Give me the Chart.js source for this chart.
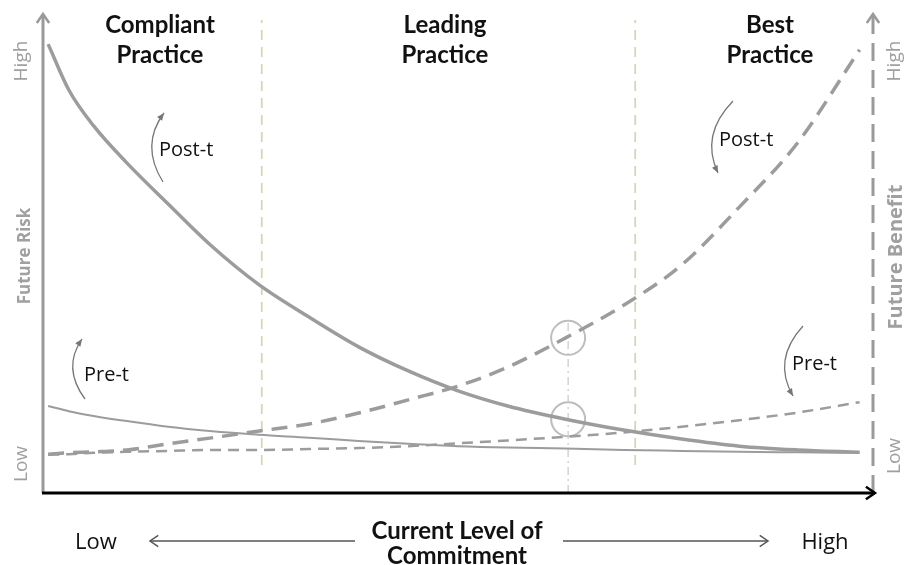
<!DOCTYPE html>
<html>
<head>
<meta charset="utf-8">
<script src="https://cdn.jsdelivr.net/npm/chart.js@4.4.1/dist/chart.umd.min.js"></script>
<style>
  html, body { margin: 0; padding: 0; background: #fff; }
  #wrap { width: 910px; height: 565px; }
</style>
</head>
<body>
<div id="wrap"><canvas id="riskChart" width="910" height="565"></canvas></div>
<script>
// Commitment level (x, 0-100) shared by all curves
const commitment = [0.5, 3, 6, 10, 15, 20, 26, 32, 38, 44, 50, 56, 63, 70, 77, 84, 91, 98.5];

// Future risk (left axis, 0-100)
const riskPostT = [94.9, 85.2, 77.6, 69.8, 61.1, 52.6, 44.0, 37.2, 30.9, 25.8, 21.6, 18.4, 15.6, 13.3, 11.4, 9.9, 9.1, 8.6];
const riskPreT  = [18.4, 17.3, 16.3, 15.2, 14.0, 13.1, 12.3, 11.7, 11.0, 10.4, 9.9, 9.6, 9.4, 9.1, 8.9, 8.7, 8.6, 8.5];

// Future benefit (right axis, 0-100)
const benefitPostT = [8.2, 8.5, 8.7, 9.1, 10.4, 11.6, 13.1, 14.6, 16.9, 19.7, 22.6, 26.6, 32.8, 39.7, 48.2, 60.5, 74.0, 93.7];
const benefitPreT  = [8.1, 8.2, 8.5, 8.7, 8.9, 9.1, 9.1, 9.3, 9.5, 9.9, 10.5, 11.1, 11.9, 12.8, 14.0, 15.4, 17.0, 19.2];

// Practice zone boundaries and the highlighted commitment level
const zoneBounds = [26.3, 71.4];
const zoneNames = [['Compliant', 'Practice'], ['Leading', 'Practice'], ['Best', 'Practice']];
const markerX = 63.3;
const markerY = [32.8, 15.6];

function pts(ys) {
    return commitment.map((x, i) => ({ x: x, y: ys[i] }));
}

const grey = '#9c9c9c';

const datasets = [
    { data: pts(riskPostT), borderColor: grey, borderWidth: 3.5, cubicInterpolationMode: 'monotone', pointRadius: 0 },
    { data: pts(riskPreT), borderColor: grey, borderWidth: 2, cubicInterpolationMode: 'monotone', pointRadius: 0 },
    { data: pts(benefitPostT), borderColor: grey, borderWidth: 3.5, borderDash: [16, 9], cubicInterpolationMode: 'monotone', pointRadius: 0 },
    { data: pts(benefitPreT), borderColor: grey, borderWidth: 2.5, borderDash: [11, 7], cubicInterpolationMode: 'monotone', pointRadius: 0 }
];

// zone dividers
zoneBounds.forEach(b => {
    datasets.push({
        data: [{ x: b, y: 5.9 }, { x: b, y: 100.5 }],
        borderColor: '#d9d4b6', borderWidth: 1.8, borderDash: [10, 7], pointRadius: 0
    });
});

// dash-dot marker line
datasets.push({
    data: [{ x: markerX, y: 0 }, { x: markerX, y: 36 }],
    borderColor: '#c8c8c8', borderWidth: 1.2, borderDash: [8, 4, 2, 4], pointRadius: 0
});

// circles
datasets.push({
    type: 'scatter',
    data: markerY.map(y => ({ x: markerX, y: y })),
    pointRadius: 17, pointHoverRadius: 17,
    pointBackgroundColor: 'rgba(0,0,0,0)', pointBorderColor: '#bdbdbd', pointBorderWidth: 2
});

function arrowHead(ctx, x, y, ang, len, spread) {
    ctx.beginPath();
    ctx.moveTo(x - len * Math.cos(ang - spread), y - len * Math.sin(ang - spread));
    ctx.lineTo(x, y);
    ctx.lineTo(x - len * Math.cos(ang + spread), y - len * Math.sin(ang + spread));
    ctx.stroke();
}

function curvedArrow(ctx, x1, y1, cx, cy, x2, y2) {
    ctx.save();
    ctx.strokeStyle = '#777';
    ctx.lineWidth = 1.3;
    ctx.beginPath();
    ctx.moveTo(x1, y1);
    ctx.quadraticCurveTo(cx, cy, x2, y2);
    ctx.stroke();
    const ang = Math.atan2(y2 - cy, x2 - cx);
    ctx.fillStyle = '#777';
    ctx.beginPath();
    ctx.moveTo(x2, y2);
    ctx.lineTo(x2 - 8 * Math.cos(ang - 0.4), y2 - 8 * Math.sin(ang - 0.4));
    ctx.lineTo(x2 - 8 * Math.cos(ang + 0.4), y2 - 8 * Math.sin(ang + 0.4));
    ctx.closePath();
    ctx.fill();
    ctx.restore();
}

function vText(ctx, text, x, y, font, color) {
    ctx.save();
    ctx.translate(x, y);
    ctx.rotate(-Math.PI / 2);
    ctx.font = font;
    ctx.fillStyle = color;
    ctx.textAlign = 'center';
    ctx.textBaseline = 'middle';
    ctx.fillText(text, 0, 0);
    ctx.restore();
}

const decorations = {
    id: 'decorations',
    afterDatasetsDraw(chart) {
        const { ctx, scales } = chart;
        const xs = scales.x, ys = scales.y;
        const left = xs.getPixelForValue(0);
        const right = xs.getPixelForValue(100);
        const bottom = ys.getPixelForValue(0);
        const top = ys.getPixelForValue(100) - 6;

        ctx.save();
        // left axis
        ctx.strokeStyle = '#9a9a9a';
        ctx.lineWidth = 3;
        ctx.beginPath();
        ctx.moveTo(left - 1, bottom);
        ctx.lineTo(left - 1, top + 1);
        ctx.stroke();
        ctx.lineWidth = 2.5;
        arrowHead(ctx, left - 1, top, -Math.PI / 2, 11, 0.6);

        // right axis (dashed)
        ctx.lineWidth = 3;
        ctx.setLineDash([18, 9]);
        ctx.beginPath();
        ctx.moveTo(right + 1, bottom);
        ctx.lineTo(right + 1, top + 2);
        ctx.stroke();
        ctx.setLineDash([]);
        ctx.lineWidth = 2.5;
        arrowHead(ctx, right + 1, top, -Math.PI / 2, 11, 0.6);

        // bottom axis
        ctx.strokeStyle = '#000';
        ctx.lineWidth = 3;
        ctx.beginPath();
        ctx.moveTo(left - 2, bottom);
        ctx.lineTo(right + 2, bottom);
        ctx.stroke();
        ctx.lineWidth = 2.5;
        arrowHead(ctx, right + 3, bottom, 0, 11, 0.6);

        // zone titles
        ctx.fillStyle = '#111';
        ctx.font = 'bold 24px Lato';
        ctx.textAlign = 'center';
        ctx.textBaseline = 'middle';
        const centers = [160, 445, 770];
        zoneNames.forEach((n, i) => {
            ctx.fillText(n[0], centers[i], 25);
            ctx.fillText(n[1], centers[i], 55);
        });

        // axis side labels
        const sideFont = '19px "Open Sans"';
        vText(ctx, 'High', 22, 61, sideFont, '#a0a0a0');
        vText(ctx, 'Low', 22, 464, sideFont, '#a0a0a0');
        vText(ctx, 'Future Risk', 25, 256, 'bold 17px "Open Sans"', '#a0a0a0');
        vText(ctx, 'High', 895, 61, sideFont, '#a0a0a0');
        vText(ctx, 'Low', 895, 456, sideFont, '#a0a0a0');
        vText(ctx, 'Future Benefit', 896, 257, 'bold 20px "Open Sans"', '#a0a0a0');

        // bottom labels
        ctx.fillStyle = '#111';
        ctx.font = '22px "Open Sans"';
        ctx.fillText('Low', 96, 543);
        ctx.fillText('High', 825, 543);
        ctx.font = 'bold 24px Lato';
        ctx.fillText('Current Level of', 457, 531);
        ctx.fillText('Commitment', 457, 556);

        ctx.strokeStyle = '#555';
        ctx.lineWidth = 1.5;
        ctx.beginPath();
        ctx.moveTo(150, 541); ctx.lineTo(355, 541);
        ctx.moveTo(563, 541); ctx.lineTo(768, 541);
        ctx.stroke();
        arrowHead(ctx, 150, 541, Math.PI, 10, 0.6);
        arrowHead(ctx, 768, 541, 0, 10, 0.6);

        // curved arrows and labels
        curvedArrow(ctx, 163, 182, 140, 145, 164, 113);
        curvedArrow(ctx, 85, 399, 62, 368, 82, 339);
        curvedArrow(ctx, 733, 101, 700, 135, 718, 173);
        curvedArrow(ctx, 803, 326, 772, 360, 793, 396);

        ctx.fillStyle = '#111';
        ctx.font = '20px "Open Sans"';
        ctx.textAlign = 'left';
        ctx.fillText('Post-t', 159, 150);
        ctx.fillText('Pre-t', 84, 375);
        ctx.fillText('Post-t', 719, 140);
        ctx.fillText('Pre-t', 792, 364);
        ctx.restore();
    }
};

new Chart(document.getElementById('riskChart').getContext('2d'), {
    type: 'line',
    data: { datasets: datasets },
    options: {
        responsive: false,
        animation: false,
        layout: { padding: { left: 44, right: 38, top: 20, bottom: 72 } },
        plugins: { legend: { display: false }, tooltip: { enabled: false } },
        scales: {
            x: { type: 'linear', min: 0, max: 100, display: false },
            y: { min: 0, max: 100, display: false }
        },
        elements: { line: { fill: false } }
    },
    plugins: [decorations]
});
</script>
</body>
</html>
